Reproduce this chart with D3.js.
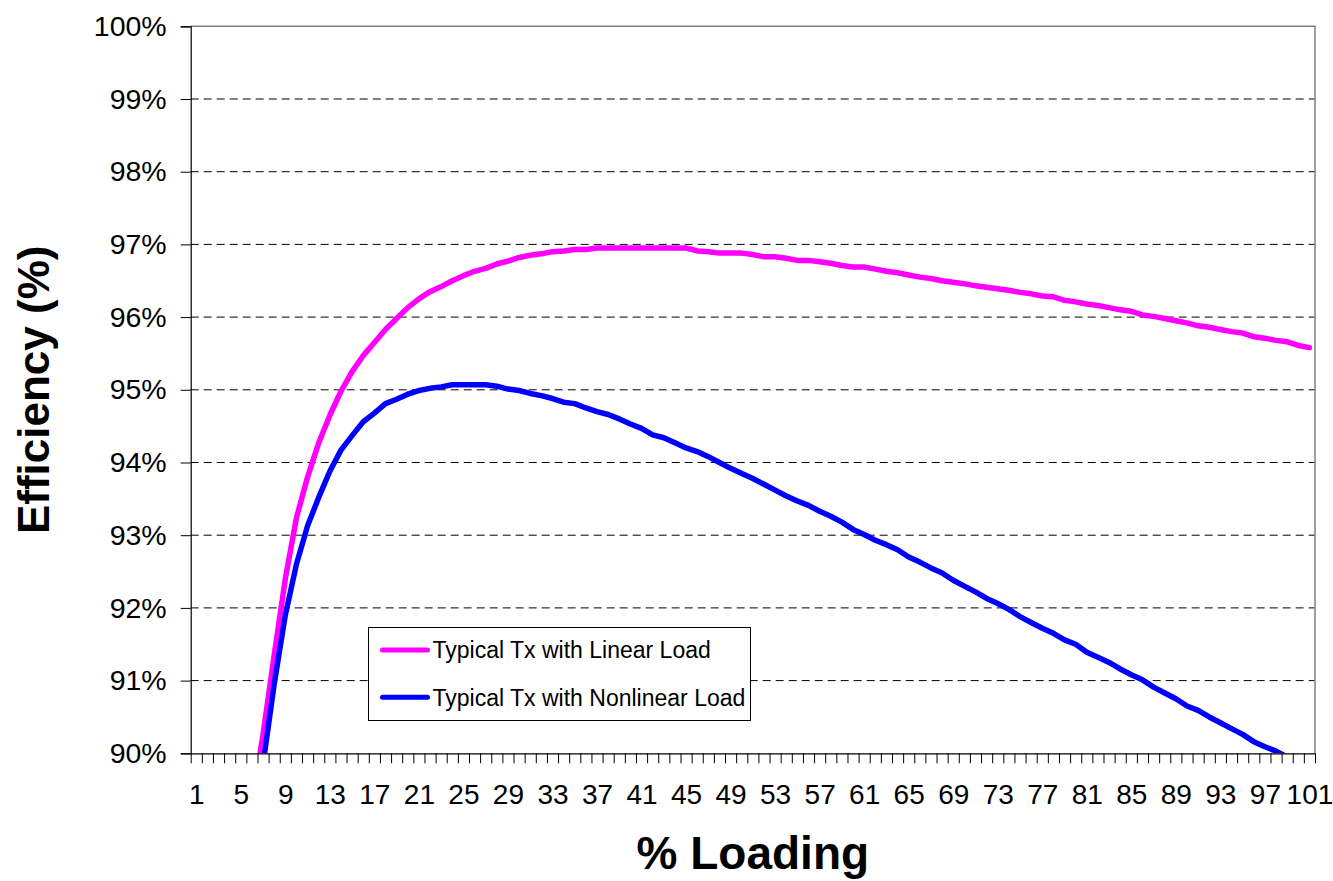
<!DOCTYPE html>
<html>
<head>
<meta charset="utf-8">
<script src="https://cdn.jsdelivr.net/npm/d3@7/dist/d3.min.js"></script>
<style>
  html, body { margin: 0; padding: 0; background: #fff; }
  svg { display: block; }
  text { font-family: "Liberation Sans", Arial, sans-serif; fill: #000; }
</style>
</head>
<body>
<svg id="chart" width="1333" height="881"></svg>
<script>
// Transformer efficiency vs. percent loading, categories 1..101
const loadingCategories = d3.range(1, 102);
const xTickLabels = ["1","5","9","13","17","21","25","29","33","37","41","45","49","53","57","61","65","69","73","77","81","85","89","93","97","101"];
const yTicks = [90, 91, 92, 93, 94, 95, 96, 97, 98, 99, 100];

// Series values start at 6 % loading (points below 90 % are clipped by the plot area)
const seriesStart = 6;
const linearLoad = [
  89.3, 90.26, 91.35, 92.4, 93.24, 93.8, 94.27, 94.65, 94.98, 95.25,
  95.47, 95.65, 95.83, 95.98, 96.13, 96.25, 96.35, 96.42, 96.5, 96.57,
  96.63, 96.67, 96.73, 96.77, 96.82, 96.85, 96.87, 96.9, 96.91, 96.93,
  96.93, 96.95, 96.95, 96.95, 96.95, 96.95, 96.95, 96.95, 96.95, 96.95,
  96.91, 96.9, 96.88, 96.88, 96.88, 96.86, 96.83, 96.83, 96.81, 96.78,
  96.78, 96.76, 96.74, 96.71, 96.69, 96.69, 96.66, 96.63, 96.61, 96.58,
  96.55, 96.53, 96.5, 96.48, 96.46, 96.43, 96.41, 96.39, 96.37, 96.34,
  96.32, 96.29, 96.28, 96.23, 96.21, 96.18, 96.16, 96.13, 96.1, 96.08,
  96.03, 96.01, 95.98, 95.95, 95.92, 95.88, 95.86, 95.83, 95.8, 95.78,
  95.73, 95.71, 95.68, 95.66, 95.61, 95.58
];
const nonlinearLoad = [
  88.7, 89.85, 90.95, 91.9, 92.6, 93.13, 93.52, 93.88, 94.17, 94.37,
  94.56, 94.68, 94.81, 94.87, 94.94, 94.99, 95.02, 95.04, 95.07, 95.07,
  95.07, 95.07, 95.05, 95.01, 94.99, 94.95, 94.92, 94.88, 94.83, 94.81,
  94.75, 94.7, 94.66, 94.6, 94.53, 94.47, 94.38, 94.34, 94.27, 94.2,
  94.15, 94.08, 94.0, 93.92, 93.85, 93.78, 93.7, 93.62, 93.54, 93.47,
  93.41, 93.33, 93.26, 93.18, 93.08, 93.01, 92.93, 92.87, 92.8, 92.7,
  92.63, 92.55, 92.48, 92.38, 92.3, 92.22, 92.13, 92.06, 91.98, 91.88,
  91.8, 91.72, 91.65, 91.56, 91.5, 91.39, 91.32, 91.25, 91.16, 91.08,
  91.01, 90.91, 90.83, 90.75, 90.65, 90.59, 90.5, 90.42, 90.34, 90.26,
  90.16, 90.09, 90.03, 89.95, 89.87, 89.78
];
const seriesNames = ["Typical Tx with Linear Load", "Typical Tx with Nonlinear Load"];
const seriesColors = ["#FF00FF", "#0000FF"];

const plot = { left: 190.7, right: 1315, top: 26.3, bottom: 753.3 };
const svg = d3.select("#chart");

// Category axis: ticks sit between categories, points at category centres
const x = d3.scaleLinear()
  .domain([loadingCategories[0] - 0.5, loadingCategories[loadingCategories.length - 1] + 0.5])
  .range([plot.left, plot.right]);
const y = d3.scaleLinear().domain([90, 100]).range([plot.bottom, plot.top]);

// Dashed horizontal gridlines
svg.append("g")
  .selectAll("line")
  .data(yTicks.filter(v => v > 90 && v < 100))
  .join("line")
  .attr("x1", plot.left).attr("x2", plot.right)
  .attr("y1", d => y(d)).attr("y2", d => y(d))
  .attr("stroke", "#000")
  .attr("stroke-width", 1)
  .attr("stroke-dasharray", "8,5");

// Plot-area frame (top and right)
svg.append("path")
  .attr("d", `M${plot.left},${plot.top}H${plot.right}V${plot.bottom}`)
  .attr("fill", "none")
  .attr("stroke", "#808080")
  .attr("stroke-width", 1.5);

// Series lines, clipped to the plot area
svg.append("clipPath").attr("id", "plotClip")
  .append("rect")
  .attr("x", plot.left).attr("y", plot.top)
  .attr("width", plot.right - plot.left).attr("height", plot.bottom - plot.top);

const line = d3.line()
  .x((d, i) => x(seriesStart + i))
  .y(d => y(d));

const lines = svg.append("g").attr("clip-path", "url(#plotClip)");
[linearLoad, nonlinearLoad].forEach((vals, s) => {
  lines.append("path")
    .datum(vals)
    .attr("d", line)
    .attr("fill", "none")
    .attr("stroke", seriesColors[s])
    .attr("stroke-width", 5.5)
    .attr("stroke-linejoin", "round")
    .attr("stroke-linecap", "round");
});

// Y axis
const yAxis = svg.append("g")
  .attr("transform", `translate(${plot.left},0)`)
  .call(d3.axisLeft(y).tickValues(yTicks).tickSize(10).tickPadding(14)
    .tickFormat(d => d + "%"));
yAxis.select(".domain").attr("stroke", "#000").attr("stroke-width", 1.2);
yAxis.selectAll(".tick line").attr("stroke", "#000");
yAxis.selectAll(".tick text")
  .style("font-family", "'Liberation Sans', Arial, sans-serif")
  .style("font-size", "28.5px")
  .attr("fill", "#000");

// X axis: tick marks at category boundaries
const boundaries = d3.range(loadingCategories.length + 1).map(i => loadingCategories[0] - 0.5 + i);
const xAxisTicks = svg.append("g")
  .attr("transform", `translate(0,${plot.bottom})`)
  .call(d3.axisBottom(x).tickValues(boundaries).tickSize(10).tickSizeOuter(0).tickFormat(""));
xAxisTicks.select(".domain").attr("stroke", "#000").attr("stroke-width", 1.2);
xAxisTicks.selectAll(".tick line").attr("stroke", "#000");

// X axis: category labels every fourth category
const xAxisLabels = svg.append("g")
  .attr("transform", `translate(0,${plot.bottom})`)
  .call(d3.axisBottom(x).tickValues(xTickLabels.map(Number)).tickSize(0).tickPadding(31)
    .tickFormat(d => String(d)));
xAxisLabels.select(".domain").remove();
xAxisLabels.selectAll(".tick text")
  .style("font-family", "'Liberation Sans', Arial, sans-serif")
  .style("font-size", "28px")
  .attr("fill", "#000");

// Axis titles
svg.append("text")
  .attr("transform", `translate(49,${(plot.top + plot.bottom) / 2}) rotate(-90)`)
  .attr("text-anchor", "middle")
  .style("font-size", "44px")
  .style("font-weight", "bold")
  .text("Efficiency (%)");

svg.append("text")
  .attr("x", (plot.left + plot.right) / 2)
  .attr("y", 869)
  .attr("text-anchor", "middle")
  .style("font-size", "46px")
  .style("font-weight", "bold")
  .text("% Loading");

// Legend
const legend = svg.append("g").attr("transform", "translate(368.5,627.5)");
legend.append("rect")
  .attr("width", 382).attr("height", 93)
  .attr("fill", "#fff").attr("stroke", "#000").attr("stroke-width", 1);
seriesNames.forEach((name, i) => {
  const row = legend.append("g").attr("transform", `translate(0,${22.5 + i * 47.3})`);
  row.append("line")
    .attr("x1", 14).attr("x2", 59)
    .attr("stroke", seriesColors[i]).attr("stroke-width", 5)
    .attr("stroke-linecap", "round");
  row.append("text")
    .attr("x", 64).attr("dy", "0.36em")
    .style("font-size", "23px")
    .text(name);
});
</script>
</body>
</html>
